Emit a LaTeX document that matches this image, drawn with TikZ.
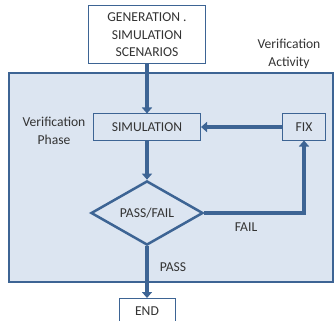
\documentclass[tikz,border=0pt]{standalone}
\usepackage{fontspec}
\setmainfont{Carlito}
\usetikzlibrary{shapes.geometric,arrows.meta}
\definecolor{dblue}{HTML}{3D6494}
\definecolor{lblue}{HTML}{DCE5F1}
\definecolor{txt}{HTML}{333333}
\tikzset{
  boxw/.style={draw=dblue, line width=1pt, fill=white, inner sep=0pt, text=txt, align=center},
  boxl/.style={draw=dblue, line width=1pt, fill=lblue, inner sep=0pt, text=txt, align=center},
  lbl/.style={text=txt, align=center, inner sep=0pt},
  flow/.style={draw=dblue, line width=4pt, -{Triangle[width=10pt,length=6pt]}}
}
\begin{document}
\begin{tikzpicture}[x=1pt,y=-1pt,font=\fontsize{13.6}{17.5}\selectfont]
\useasboundingbox (0,0) rectangle (335,321);
% activity frame
\node[draw=dblue, line width=2pt, fill=lblue, minimum width=324pt, minimum height=209pt, inner sep=0pt] (act) at (171,177.5) {};
% boxes
\node[boxw, minimum width=117pt, minimum height=58pt] (gen) at (147,35) {GENERATION .\\SIMULATION\\SCENARIOS};
\node[boxl, minimum width=107pt, minimum height=26pt] (sim) at (147,127) {SIMULATION};
\node[boxl, minimum width=43pt, minimum height=26pt] (fix) at (304,127) {FIX};
\node[diamond, draw=dblue, line width=2.5pt, fill=lblue, minimum width=112pt, minimum height=61pt, inner sep=0pt, text=txt] (dec) at (147,213) {PASS/FAIL};
\node[boxw, minimum width=56pt, minimum height=40pt, anchor=north] (end) at (147,298) {};
\node[lbl] (endt) at (147,311) {END};
% labels
\node[lbl] (la) at (289,54) {Verification\\Activity};
\node[lbl] (lp) at (54,131) {Verification\\Phase};
\node[lbl] (lf) at (246,227) {FAIL};
\node[lbl] (lpass) at (173,267) {PASS};
% connectors
\draw[flow] (gen.south) -- (sim.north);
\draw[flow] (sim.south) -- (dec.north);
\draw[flow] (fix.west) -- (sim.east);
\draw[flow] (dec.east) -- (fix.south |- dec.east) -- (fix.south);
\draw[flow] (dec.south) -- (end.north);
\end{tikzpicture}
\end{document}
